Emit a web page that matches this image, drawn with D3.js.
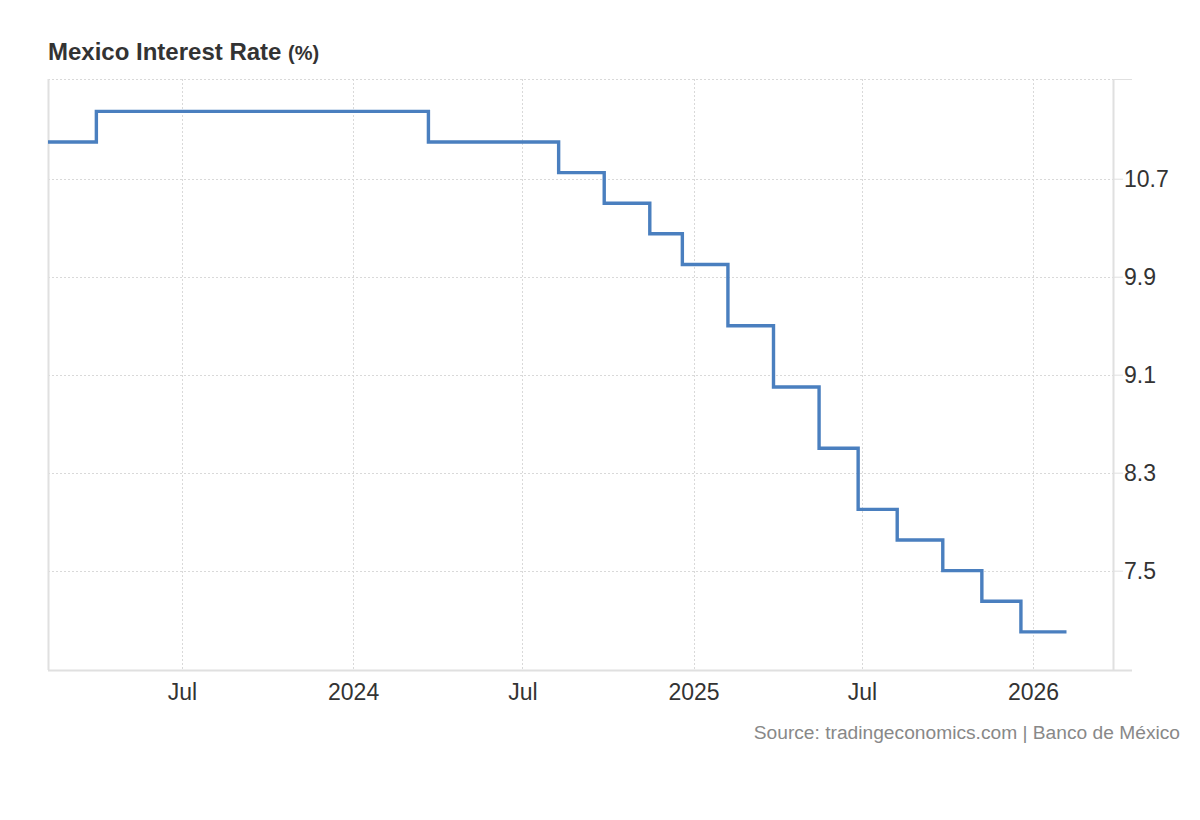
<!DOCTYPE html>
<html>
<head>
<meta charset="utf-8">
<script src="https://cdn.jsdelivr.net/npm/d3@7"></script>
<style>
  html, body { margin: 0; padding: 0; background: #fff; }
  svg { display: block; font-family: "Liberation Sans", Arial, sans-serif; }
</style>
</head>
<body>
<svg id="chart" width="1200" height="820"></svg>
<script>
// Policy rate change dates and the rate in effect from that date
const changeDates = ["2023-02-07", "2023-03-31", "2024-03-22", "2024-08-09", "2024-09-27", "2024-11-15",
  "2024-12-20", "2025-02-07", "2025-03-28", "2025-05-16", "2025-06-27", "2025-08-08",
  "2025-09-26", "2025-11-07", "2025-12-19", "2026-02-06"];
const rates = [11.0, 11.25, 11.0, 10.75, 10.5, 10.25, 10.0, 9.5, 9.0, 8.5, 8.0, 7.75, 7.5, 7.25, 7.0, 7.0];

const yTicks = [7.5, 8.3, 9.1, 9.9, 10.7];
const xTickDates = ["2023-07-01", "2024-01-01", "2024-07-01", "2025-01-01", "2025-07-01", "2026-01-01"];
const xTickLabels = ["Jul", "2024", "Jul", "2025", "Jul", "2026"];
const xDomain = ["2023-02-07", "2026-03-28"];
const yDomain = [6.689, 11.514];

(function () {
const parse = d3.timeParse("%Y-%m-%d");
const data = changeDates.map((d, i) => ({ date: parse(d), value: rates[i] }));

const svg = d3.select("#chart");
const pL = 48, pR = 1113, pT = 79, pB = 670;

const x = d3.scaleTime().domain(xDomain.map(parse)).range([pL, pR]);
const y = d3.scaleLinear().domain(yDomain).range([pB, pT]);

// Title
const title = svg.append("text").attr("x", 48).attr("y", 60)
  .attr("fill", "#333").attr("font-weight", "bold").attr("font-size", 24);
title.append("tspan").text("Mexico Interest Rate ");
title.append("tspan").attr("font-size", 20).text("(%)");

// Gridlines
const grid = svg.append("g");
grid.selectAll("line.h").data(yTicks.concat([yDomain[1]])).join("line")
  .attr("x1", pL).attr("x2", pR)
  .attr("y1", d => Math.round(y(d)) + 0.5).attr("y2", d => Math.round(y(d)) + 0.5)
  .attr("stroke", "#d9d9d9").attr("stroke-width", 1).attr("stroke-dasharray", "2,2");
grid.selectAll("line.v").data(xTickDates.map(parse)).join("line")
  .attr("x1", d => Math.round(x(d)) + 0.5).attr("x2", d => Math.round(x(d)) + 0.5)
  .attr("y1", pT).attr("y2", pB)
  .attr("stroke", "#d9d9d9").attr("stroke-width", 1).attr("stroke-dasharray", "2,2");

// Frame lines
svg.append("line").attr("x1", pL + 0.5).attr("x2", pL + 0.5).attr("y1", pT).attr("y2", pB)
  .attr("stroke", "#e0e0e0").attr("stroke-width", 2);
svg.append("line").attr("x1", pR + 0.5).attr("x2", pR + 0.5).attr("y1", pT).attr("y2", pB)
  .attr("stroke", "#e0e0e0").attr("stroke-width", 2);
svg.append("line").attr("x1", pL).attr("x2", 1132).attr("y1", pB + 0.5).attr("y2", pB + 0.5)
  .attr("stroke", "#e0e0e0").attr("stroke-width", 2);
svg.append("line").attr("x1", pR).attr("x2", 1132).attr("y1", pT + 0.5).attr("y2", pT + 0.5)
  .attr("stroke", "#e0e0e0").attr("stroke-width", 1);

// Y axis (right)
const yAxis = d3.axisRight(y).tickValues(yTicks).tickSize(10).tickPadding(1).tickFormat(d3.format(".1f"));
const gy = svg.append("g").attr("transform", `translate(${pR},0)`).call(yAxis);
gy.select(".domain").remove();
gy.selectAll(".tick line").attr("stroke", "#e0e0e0");
gy.selectAll(".tick text").attr("fill", "#333").attr("font-size", 23)
  .attr("font-family", "Liberation Sans, Arial, sans-serif").attr("dy", "0.35em");

// X axis
const xAxis = d3.axisBottom(x).tickValues(xTickDates.map(parse))
  .tickFormat((d, i) => xTickLabels[i]).tickSize(0).tickPadding(14);
const gx = svg.append("g").attr("transform", `translate(0,${pB})`).call(xAxis);
gx.select(".domain").remove();
gx.selectAll(".tick text").attr("fill", "#333").attr("font-size", 23)
  .attr("font-family", "Liberation Sans, Arial, sans-serif");

// Line
const line = d3.line().x(d => x(d.date)).y(d => y(d.value)).curve(d3.curveStepAfter);
svg.append("path").datum(data).attr("d", line)
  .attr("fill", "none").attr("stroke", "#4a7fbf").attr("stroke-width", 3.4)
  .attr("stroke-linejoin", "miter");

// Source
svg.append("text").attr("x", 1180).attr("y", 739).attr("text-anchor", "end")
  .attr("fill", "#888").attr("font-size", 19.2)
  .text("Source: tradingeconomics.com | Banco de México");
})();
</script>
</body>
</html>
